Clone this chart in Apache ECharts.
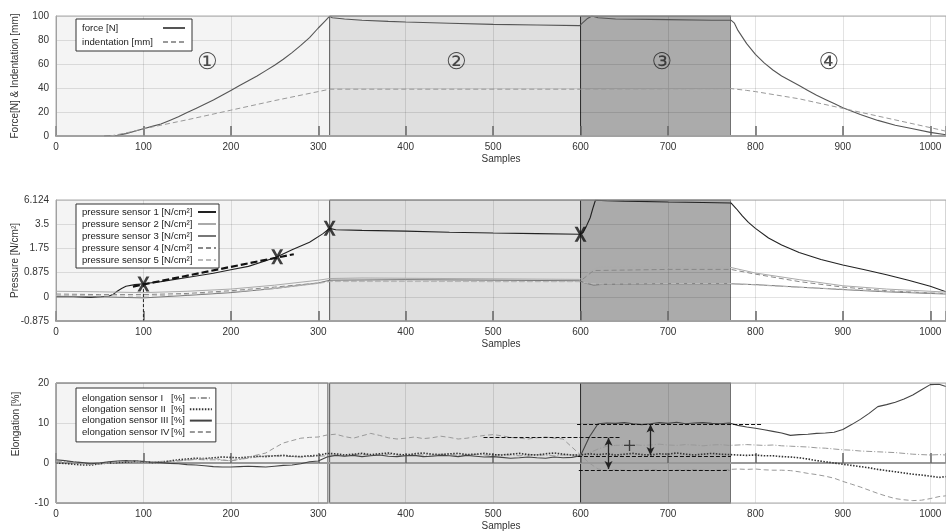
<!DOCTYPE html>
<html><head><meta charset="utf-8">
<script src="https://cdn.jsdelivr.net/npm/echarts@6/dist/echarts.min.js"></script>
<style>html,body{margin:0;padding:0;background:#fff}#c{width:946px;height:531px}</style>
</head><body><div id="c"></div>
<script>
// ---------- DATA ----------
const phaseBounds = [0, 313, 600, 772, 1018];
const phaseLabels = ['①', '②', '③', '④'];
const phaseLabelX = [173, 458, 693, 884];
const phaseLabelY = 61;

const forceX = [55,70,80,90,100,110,120,130,140,150,160,170,180,190,200,210,220,230,240,250,260,270,280,290,300,308,313,316,330,350,380,400,450,500,550,599,602,608,613,620,640,700,750,772,776,780,790,800,810,820,830,840,850,860,870,880,890,900,920,940,960,980,1000,1018];
const forceY = [0,0.5,2,4,6,8,10,13,16,19.5,23,26.5,30,34,38,42,46,50,54.5,59,64,69.5,75.5,82,90,96,99.8,98.5,97.5,96.5,95.5,95,94,93,92.5,92,94,98,100,98.5,97.5,97,96.5,96.5,94,88,77,68,61,55,50,46,42,38,34,30.5,27,23.5,18,13,9,6,3,1];
const indentX = [62,80,100,120,150,200,250,300,313,400,600,772,790,800,850,900,950,1000,1018];
const indentY = [0,2.5,6,9,13.5,21.5,29.5,37,39,39,39,39.5,38,37,31,23,15,7,4];

const pressureTicks = [-0.875, 0, 0.875, 1.75, 3.5, 6.124];
const pressureTickLabels = ['-0.875', '0', '0.875', '1.75', '3.5', '6.124'];
const p1X = [0,20,40,60,65,70,75,80,90,100,120,150,180,200,220,240,253,270,290,305,313,320,350,400,450,500,550,599,603,607,611,614,617,630,650,700,740,772,778,785,792,800,815,830,850,875,900,925,950,975,1000,1018];
const p1Y = [0,0,-0.02,0.02,0.08,0.2,0.3,0.38,0.44,0.47,0.55,0.7,0.85,0.98,1.1,1.3,1.45,1.7,2.2,2.8,3.2,3.1,3.05,3.0,2.92,2.86,2.82,2.77,2.9,3.4,4.2,5.2,6.1,6.05,6.0,5.9,5.85,5.8,5.2,4.4,3.7,3.2,2.5,2.0,1.6,1.35,1.15,0.98,0.8,0.6,0.38,0.18];
const p2X = [0,50,100,150,200,250,300,313,350,400,500,599,605,612,620,700,772,800,850,900,950,1000,1018];
const p2Y = [0.2,0.18,0.15,0.2,0.28,0.42,0.6,0.66,0.68,0.67,0.65,0.63,0.75,0.95,1.06,1.07,1.06,0.86,0.62,0.4,0.28,0.2,0.17];
const p3X = [0,50,100,150,200,250,300,313,400,500,599,605,615,625,700,772,800,850,900,950,1000,1018];
const p3Y = [0.02,0,-0.04,0.05,0.15,0.3,0.5,0.6,0.62,0.6,0.58,0.5,0.42,0.45,0.47,0.47,0.44,0.35,0.26,0.18,0.12,0.1];
const p4X = [0,50,100,150,200,250,300,313,400,500,599,605,615,700,772,800,850,900,950,1000,1018];
const p4Y = [0.1,0.08,0.08,0.12,0.22,0.35,0.5,0.56,0.56,0.55,0.55,0.7,0.95,0.99,0.99,0.82,0.55,0.35,0.22,0.14,0.12];
const p5X = [0,100,150,200,250,300,313,400,599,610,620,700,772,850,900,950,1018];
const p5Y = [0.05,0.02,0.08,0.18,0.3,0.48,0.55,0.55,0.55,0.48,0.46,0.48,0.48,0.34,0.28,0.2,0.12];
const pressureMarkX = [100, 253, 313, 600];
const pressureMarkY = [0.46, 1.45, 3.2, 2.77];
const tangentX = [88, 272];
const tangentY = [0.37, 1.54];
const dropLineX = [100, 100];
const dropLineY = [0.46, -0.875];

const elongX = [0,10,20,30,40,50,60,70,80,90,100,110,120,130,140,150,160,170,180,190,200,210,220,230,240,250,260,270,280,290,300,310,320,330,340,350,360,370,380,390,400,410,420,430,440,450,460,470,480,490,500,510,520,530,540,550,560,570,580,590,600,610,620,630,640,650,660,670,680,690,700,710,720,730,740,750,760,770,780,790,800,810,820,830,840,850,860,870,880,890,900,910,920,930,940,950,960,970,980,990,1000,1010,1018];
const elongI = [0.5,0.4,0.3,0.1,0,0.1,0.2,0.4,0.5,0.6,0.3,0.2,0.3,0.4,0.5,0.7,0.9,0.8,0.8,0.7,0.6,0.9,1.2,1.5,1.8,1.8,1.7,1.6,1.5,1.6,1.7,1.8,2.0,1.8,2.1,2.2,1.9,2.0,2.2,2.0,1.8,2.1,2.0,1.9,2.2,2.1,1.9,2.0,2.2,2.0,1.9,2.1,2.0,1.8,2.0,2.1,1.9,1.8,2.0,2.0,2.0,2.5,3.5,4.2,4.4,4.5,4.6,4.4,4.5,4.7,4.5,4.4,4.6,4.5,4.3,4.5,4.6,4.4,4.5,4.6,4.5,4.4,4.5,4.3,4.2,4.1,4.0,3.8,3.7,3.5,3.3,3.2,3.0,2.9,2.8,2.7,2.6,2.4,2.2,2.1,2.0,2.1,2.0];
const elongII = [0,-0.1,-0.3,-0.5,-0.5,-0.2,0,0.1,0.2,0.4,0.3,0.1,0.2,0.5,0.8,1.0,1.2,1.1,1.3,1.5,1.4,1.3,1.5,1.7,1.6,1.8,1.9,1.7,1.6,1.8,1.9,2.4,2.3,2.0,2.2,2.4,2.1,2.3,2.5,2.2,2.0,2.3,2.5,2.2,2.1,2.3,2.4,2.1,2.2,2.4,2.1,2.0,2.2,2.4,2.1,2.0,2.3,2.5,2.2,2.0,2.0,2.3,2.1,2.3,2.0,2.2,2.4,2.1,2.0,2.3,2.2,2.5,2.2,2.0,2.2,2.4,2.2,2.1,2.0,1.9,2.0,1.8,1.8,1.6,1.5,1.3,1.0,0.6,0.3,0.0,-0.3,-0.6,-0.9,-1.2,-1.6,-1.9,-2.2,-2.5,-2.8,-3.0,-3.3,-3.6,-3.4];
const elongIII = [0.8,0.6,0.3,0.1,-0.2,0,0.3,0.5,0.6,0.5,0.4,0.2,0.1,-0.1,-0.2,-0.4,-0.5,-0.7,-0.9,-1.0,-1.0,-0.9,-0.8,-0.9,-1.0,-0.8,-0.6,-0.5,-0.2,0.3,0.5,1.5,1.9,1.7,1.9,1.6,1.8,2.0,1.7,1.6,1.8,1.9,1.6,1.7,1.9,1.8,1.6,1.9,1.7,1.5,1.6,1.4,1.2,1.3,1.5,1.3,1.2,1.5,1.3,1.4,1.8,6.5,9.8,10.0,9.9,10.1,9.8,9.6,9.8,10.1,9.9,10.2,9.8,10.0,10.1,9.9,9.8,10.0,9.4,9.0,8.7,8.3,7.9,7.5,6.9,7.1,7.2,7.4,7.5,7.7,8.4,9.6,10.9,12.4,14.1,14.6,15.2,16.0,17.0,18.3,19.6,19.7,19.1];
const elongIV = [0.3,0.2,0,-0.2,-0.4,-0.3,0,0.2,0.5,0.4,0.2,0.3,0.4,0.5,0.6,0.8,1.0,1.1,1.2,0.8,0.5,0.9,1.5,2.0,2.5,3.8,5.0,5.6,6.2,6.4,6.5,7.0,7.2,6.6,6.2,6.8,7.4,6.9,6.3,6.0,6.2,6.5,6.1,6.3,6.7,6.4,6.0,6.2,6.6,6.9,7.1,6.8,6.4,6.2,6.0,6.3,6.5,6.2,6.0,4.0,2.0,0.0,-1.5,-1.9,-1.7,-1.8,-2.0,-1.8,-1.6,-1.8,-1.9,-1.7,-1.8,-1.6,-1.8,-1.9,-1.7,-1.6,-1.5,-1.6,-1.5,-1.7,-1.8,-1.8,-1.9,-2.2,-2.6,-2.9,-3.3,-3.8,-4.6,-5.3,-6.0,-6.8,-7.6,-8.3,-8.9,-9.2,-9.4,-9.3,-8.9,-8.4,-8.2];
const levelLines = [ [[596,9.8],[807,9.8]], [[489,6.5],[645,6.5]], [[597,1.8],[772,1.8]], [[598,-1.75],[770,-1.75]] ];
const arrowLines = [ [[632,6.3],[632,-1.5]], [[680,9.6],[680,2.0]] ];
const plusMark = [656, 4.4];

const legendForce = ['force [N]', 'indentation [mm]'];
const legendPressure = ['pressure sensor 1 [N/cm²]','pressure sensor 2 [N/cm²]','pressure sensor 3 [N/cm²]','pressure sensor 4 [N/cm²]','pressure sensor 5 [N/cm²]'];
const legendElong = ['elongation sensor I','elongation sensor II','elongation sensor III','elongation sensor IV'];
const elongUnit = '[%]';

// ---------- BUILD ----------
const FONT = 'Liberation Sans, Arial, sans-serif';
function pIdx(v) { // piecewise-linear pressure scale (equal tick spacing)
  const t = pressureTicks;
  if (v <= t[0]) return 0;
  for (let i = 0; i < t.length - 1; i++) {
    if (v <= t[i + 1]) return i + (v - t[i]) / (t[i + 1] - t[i]);
  }
  return t.length - 1;
}
const zip = (xs, ys) => xs.map((x, i) => [x, ys[i]]);
const zipP = (xs, ys) => xs.map((x, i) => [x, pIdx(ys[i])]);

const grids = [
  {left: 56, right: 0, top: 16, height: 120},
  {left: 56, right: 0, top: 200, height: 121},
  {left: 56, right: 0, top: 383, height: 120}
].map(g => Object.assign(g, {show: true, borderColor: '#aaa', borderWidth: 1, backgroundColor: 'transparent', z: 10,
  containLabel: false, outerBoundsMode: 'none'}));

const gridLine = 'rgba(0,0,0,0.11)';
const xAxes = [0, 1, 2].map(i => ({
  type: 'value', gridIndex: i, min: 0, max: phaseBounds[4], interval: 100, z: 2,
  name: 'Samples', nameLocation: 'middle', nameGap: 18,
  nameTextStyle: {fontFamily: FONT, fontSize: 10, color: '#333'},
  axisLine: {show: true, lineStyle: {color: '#999', width: 2}},
  axisTick: {show: true, inside: true, length: 10, lineStyle: {color: '#666', width: 1.5}},
  axisLabel: {fontFamily: FONT, fontSize: 10, color: '#333', margin: 6,
    formatter: v => (v > 1000 ? '' : String(v))},
  splitLine: {show: true, lineStyle: {color: gridLine, width: 1}}
}));
const yBase = {
  type: 'value', z: 2, nameLocation: 'middle', nameMoveOverlap: false,
  nameTextStyle: {fontFamily: FONT, fontSize: 10, color: '#333'},
  axisLine: {show: true, lineStyle: {color: '#999', width: 1}},
  axisTick: {show: false},
  axisLabel: {fontFamily: FONT, fontSize: 10, color: '#333', margin: 7},
  splitLine: {show: true, lineStyle: {color: gridLine, width: 1}}
};
const yAxes = [
  Object.assign({}, yBase, {gridIndex: 0, min: 0, max: 100, interval: 20, name: 'Force[N] & Indentation [mm]', nameGap: 36}),
  Object.assign({}, yBase, {gridIndex: 1, min: 0, max: 5, interval: 1, name: 'Pressure [N/cm²]', nameGap: 36,
    axisLabel: Object.assign({}, yBase.axisLabel, {formatter: v => pressureTickLabels[Math.round(v)]})}),
  Object.assign({}, yBase, {gridIndex: 2, min: -10, max: 20, interval: 10, name: 'Elongation [%]', nameGap: 35,
    nameTextStyle: Object.assign({}, yBase.nameTextStyle, {padding: [0, 0, 0, 38]})})
];

const phaseFill = ['#f4f4f4', '#dfdfdf', '#ababab', '#ffffff'];
function regionSeries(gi, firstBorder) {
  const data = [];
  for (let k = 0; k < 4; k++) {
    const st = {color: phaseFill[k], borderWidth: 0};
    if (k === 1) { st.borderColor = '#555'; st.borderWidth = 1; }
    if (k === 2) { st.borderColor = '#333'; st.borderWidth = 1; }
    if (k === 0 && firstBorder) { st.borderColor = '#555'; st.borderWidth = 1; }
    data.push([{xAxis: phaseBounds[k], itemStyle: st}, {xAxis: k === 0 && firstBorder ? 311 : phaseBounds[k + 1]}]);
  }
  return {type: 'line', xAxisIndex: gi, yAxisIndex: gi, data: [], z: 1, silent: true,
    markArea: {silent: true, data: data}};
}

const series = [];
series.push(regionSeries(0, false), regionSeries(1, false), regionSeries(2, true));

// phase labels
series.push({type: 'scatter', xAxisIndex: 0, yAxisIndex: 0, z: 5, symbolSize: 0, silent: true,
  data: phaseLabelX.map((x, i) => ({value: [x, phaseLabelY], label: {show: true, formatter: phaseLabels[i]}})),
  label: {position: 'inside', fontFamily: 'DejaVu Sans, Noto Sans CJK JP', fontSize: 23, color: '#222'}});

const ln = (name, gi, data, color, type, width) => ({
  name, type: 'line', xAxisIndex: gi, yAxisIndex: gi, data, z: 4, symbol: 'none', silent: true,
  lineStyle: {color, type: type || 'solid', width: width || 1}, itemStyle: {color}
});
series.push(ln(legendForce[0], 0, zip(forceX, forceY), '#555', 'solid', 1.1));
series.push(ln(legendForce[1], 0, zip(indentX, indentY), '#999', [5, 3], 1));

series.push(ln(legendPressure[0], 1, zipP(p1X, p1Y), '#222', 'solid', 1.1));
series.push(ln(legendPressure[1], 1, zipP(p2X, p2Y), '#aaa', 'solid', 1));
series.push(ln(legendPressure[2], 1, zipP(p3X, p3Y), '#777', 'solid', 1));
series.push(ln(legendPressure[3], 1, zipP(p4X, p4Y), '#888', [5, 3], 1));
series.push(ln(legendPressure[4], 1, zipP(p5X, p5Y), '#bbb', [5, 3], 1));
// pressure annotations
series.push({type: 'line', xAxisIndex: 1, yAxisIndex: 1, z: 6, symbol: 'none', silent: true,
  data: zipP(tangentX, tangentY), lineStyle: {color: '#111', width: 2.2, type: [7, 3]}});
series.push({type: 'line', xAxisIndex: 1, yAxisIndex: 1, z: 6, symbol: 'none', silent: true,
  data: zipP(dropLineX, dropLineY), lineStyle: {color: '#222', width: 1, type: [3, 2]}});
series.push({type: 'scatter', xAxisIndex: 1, yAxisIndex: 1, z: 7, silent: true,
  symbol: 'path://M0,0 L2.6,0 L5,3.9 L7.4,0 L10,0 L6.4,5.5 L10,11 L7.4,11 L5,7.1 L2.6,11 L0,11 L3.6,5.5 Z',
  symbolSize: [12, 15], itemStyle: {color: '#111'}, data: zipP(pressureMarkX, pressureMarkY)});

series.push(ln(legendElong[0], 2, zip(elongX, elongI), '#999', [6, 2, 1, 2], 1));
series.push(ln(legendElong[1], 2, zip(elongX, elongII), '#333', [1.5, 1.5], 1.6));
series.push(ln(legendElong[2], 2, zip(elongX, elongIII), '#444', 'solid', 1.1));
series.push(ln(legendElong[3], 2, zip(elongX, elongIV), '#999', [5, 3], 1));
// elongation annotations
series.push({type: 'line', xAxisIndex: 2, yAxisIndex: 2, data: [], z: 6, silent: true,
  markLine: {silent: true, symbol: 'none', animation: false, label: {show: false},
    lineStyle: {color: '#111', type: [4, 2], width: 1},
    data: levelLines.map(s => [{coord: s[0]}, {coord: s[1]}])}});
series.push({type: 'line', xAxisIndex: 2, yAxisIndex: 2, data: [], z: 7, silent: true,
  markLine: {silent: true, symbol: ['arrow', 'arrow'], symbolSize: [6, 8], animation: false, label: {show: false},
    lineStyle: {color: '#222', type: 'solid', width: 1.3},
    data: arrowLines.map(s => [{coord: s[0]}, {coord: s[1]}])}});
series.push({type: 'scatter', xAxisIndex: 2, yAxisIndex: 2, z: 7, silent: true,
  symbol: 'path://M4.4,0 L5.6,0 L5.6,4.4 L10,4.4 L10,5.6 L5.6,5.6 L5.6,10 L4.4,10 L4.4,5.6 L0,5.6 L0,4.4 L4.4,4.4 Z',
  symbolSize: 11, itemStyle: {color: '#222'}, data: [plusMark]});

const legBase = {orient: 'vertical', align: 'right', backgroundColor: '#fff', borderColor: '#333', borderWidth: 1,
  borderRadius: 0, selectedMode: false, z: 12, itemStyle: {opacity: 0, borderWidth: 0}};
const legends = [
  Object.assign({}, legBase, {left: 76, top: 19, data: legendForce, padding: [4, 6, 4, 6], itemGap: 4, itemWidth: 22, itemHeight: 10,
    formatter: n => '{t|' + n + '}', textStyle: {rich: {t: {fontFamily: FONT, fontSize: 9.6, color: '#222', width: 76, align: 'left'}}}}),
  Object.assign({}, legBase, {left: 76, top: 204, data: legendPressure, padding: [3, 2, 3, 6], itemGap: 2, itemWidth: 18, itemHeight: 10,
    formatter: n => '{t|' + n + '}', textStyle: {rich: {t: {fontFamily: FONT, fontSize: 9.6, color: '#222', width: 111, align: 'left'}}}}),
  Object.assign({}, legBase, {left: 76, top: 388, data: legendElong, padding: [5, 3, 5, 6], itemGap: 1.3, itemWidth: 22, itemHeight: 10,
    formatter: n => '{t|' + n + '}{u|' + elongUnit + '}',
    textStyle: {rich: {t: {fontFamily: FONT, fontSize: 9.6, color: '#222', width: 89, align: 'left'},
      u: {fontFamily: FONT, fontSize: 9.6, color: '#222', align: 'left'}}}})
];

const chart = echarts.init(document.getElementById('c'), null, {renderer: 'canvas'});
chart.setOption({
  animation: false,
  backgroundColor: '#fff',
  grid: grids, xAxis: xAxes, yAxis: yAxes, legend: legends, series: series
});
</script></body></html>
